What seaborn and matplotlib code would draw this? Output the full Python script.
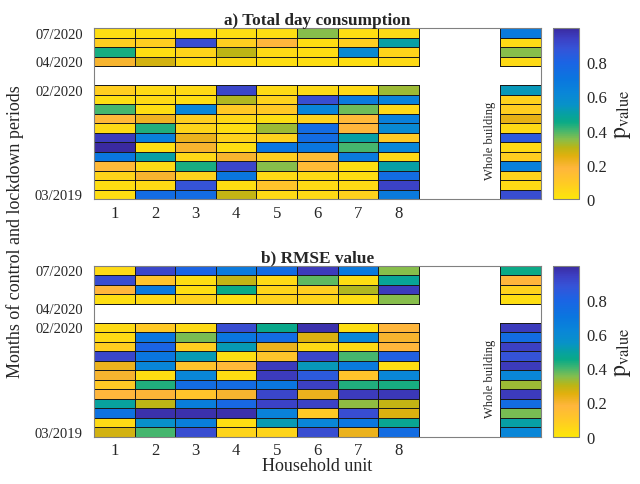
import numpy as np
import pandas as pd
import matplotlib
matplotlib.use("Agg")
import matplotlib.pyplot as plt
import seaborn as sns
from matplotlib.colors import LinearSegmentedColormap

# ---------------- data ----------------
households = ["1", "2", "3", "4", "5", "6", "7", "8"]
whole_label = "Whole building"
lockdown_months = ["07/2020", "06/2020", "05/2020", "04/2020"]
control_months = ["02/2020", "01/2020", "12/2019", "11/2019", "10/2019", "09/2019",
                  "08/2019", "07/2019", "06/2019", "05/2019", "04/2019", "03/2019"]
ytick_labels = ["07/2020", "04/2020", "02/2020", "03/2019"]
cbar_ticks = [0, 0.2, 0.4, 0.6, 0.8]
cbar_ticklabels = ["0", "0.2", "0.4", "0.6", "0.8"]

# p-values: columns = households 1..8, then whole building
consumption_lockdown = [
    [0.03, 0.03, 0.03, 0.03, 0.03, 0.35, 0.03, 0.04, 0.68],
    [0.08, 0.08, 0.90, 0.08, 0.18, 0.03, 0.08, 0.50, 0.04],
    [0.44, 0.03, 0.06, 0.30, 0.04, 0.03, 0.60, 0.06, 0.35],
    [0.20, 0.27, 0.04, 0.04, 0.03, 0.03, 0.03, 0.04, 0.04],
]
consumption_control = [
    [0.08, 0.04, 0.04, 0.92, 0.04, 0.04, 0.04, 0.33, 0.53],
    [0.03, 0.04, 0.03, 0.31, 0.07, 0.90, 0.68, 0.64, 0.07],
    [0.40, 0.03, 0.62, 0.10, 0.10, 0.63, 0.37, 0.05, 0.08],
    [0.17, 0.22, 0.08, 0.05, 0.03, 0.07, 0.17, 0.65, 0.24],
    [0.04, 0.43, 0.06, 0.03, 0.33, 0.75, 0.18, 0.60, 0.04],
    [0.95, 0.65, 0.23, 0.07, 0.07, 0.75, 0.50, 0.10, 0.85],
    [1.00, 0.03, 0.20, 0.03, 0.70, 0.70, 0.40, 0.62, 0.04],
    [0.70, 0.50, 0.05, 0.20, 0.08, 0.16, 0.68, 0.05, 0.08],
    [0.17, 0.04, 0.44, 0.92, 0.35, 0.16, 0.03, 0.50, 0.65],
    [0.06, 0.20, 0.07, 0.70, 0.04, 0.04, 0.03, 0.75, 0.07],
    [0.03, 0.04, 0.88, 0.03, 0.12, 0.04, 0.04, 0.93, 0.04],
    [0.03, 0.75, 0.75, 0.29, 0.04, 0.04, 0.07, 0.68, 0.90],
]
rmse_lockdown = [
    [0.04, 0.92, 0.80, 0.68, 0.75, 0.95, 0.68, 0.35, 0.45],
    [0.90, 0.12, 0.03, 0.29, 0.04, 0.38, 0.03, 0.48, 0.18],
    [0.18, 0.68, 0.03, 0.45, 0.06, 0.08, 0.31, 0.95, 0.07],
    [0.03, 0.04, 0.07, 0.03, 0.07, 0.06, 0.03, 0.35, 0.03],
]
rmse_control = [
    [0.04, 0.10, 0.04, 0.90, 0.46, 0.98, 0.03, 0.18, 0.95],
    [0.04, 0.70, 0.36, 0.70, 0.75, 0.26, 0.62, 0.20, 0.75],
    [0.08, 0.80, 0.08, 0.52, 0.23, 0.04, 0.04, 0.18, 0.94],
    [0.92, 0.70, 0.52, 0.03, 0.12, 0.92, 0.40, 0.82, 0.88],
    [0.23, 0.62, 0.12, 0.17, 0.95, 0.53, 0.68, 0.03, 0.95],
    [0.20, 0.03, 0.62, 0.03, 0.95, 0.85, 0.12, 0.62, 0.62],
    [0.10, 0.43, 0.75, 0.76, 0.70, 0.94, 0.43, 0.44, 0.33],
    [0.18, 0.19, 0.12, 0.20, 0.92, 0.23, 0.95, 0.96, 0.95],
    [0.49, 0.30, 0.66, 0.78, 0.93, 0.93, 0.34, 0.29, 0.75],
    [0.72, 0.98, 0.98, 0.98, 0.64, 0.10, 0.90, 0.26, 0.36],
    [0.04, 0.56, 0.66, 0.03, 0.52, 0.62, 0.70, 0.47, 0.50],
    [0.27, 0.40, 0.90, 0.06, 0.06, 0.90, 0.23, 0.75, 0.62],
]

# reversed parula-like colormap (0 = yellow, 1 = dark indigo)
cmap_stops = [0.00, 0.10, 0.18, 0.25, 0.30, 0.35, 0.40, 0.45, 0.50,
              0.55, 0.62, 0.70, 0.80, 0.88, 0.94, 1.00]
cmap_colors = ["#FDE60A", "#FFC826", "#FFB63C", "#E2B00E", "#BBB515", "#86BE4C",
               "#45B66E", "#0AAA86", "#07A0A4", "#0892C8", "#0986D8", "#0A76DF",
               "#1B64E4", "#3554D8", "#3C40C4", "#3A2AA0"]
cmap = LinearSegmentedColormap.from_list("parula_r", list(zip(cmap_stops, cmap_colors)))

# ---------------- style ----------------
sns.set_style("white")
plt.rcParams["font.family"] = ["Liberation Serif", "DejaVu Serif"]
plt.rcParams["mathtext.fontset"] = "stix"


def build_grid(lock, ctrl):
    lock = np.asarray(lock, float)
    ctrl = np.asarray(ctrl, float)
    nh = len(households)
    n_cols = nh + 3  # two blank columns, then whole building
    n_rows = len(lock) + 2 + len(ctrl)
    grid = np.full((n_rows, n_cols), np.nan)
    grid[:len(lock), :nh] = lock[:, :nh]
    grid[:len(lock), -1] = lock[:, nh]
    grid[len(lock) + 2:, :nh] = ctrl[:, :nh]
    grid[len(lock) + 2:, -1] = ctrl[:, nh]
    rows = lockdown_months + ["", " "] + control_months
    cols = households + ["gap1", "gap2", whole_label]
    return pd.DataFrame(grid, index=rows, columns=cols)


W, H = 640, 485
fig = plt.figure(figsize=(W / 100, H / 100), dpi=100)

panels = [
    ("a) Total day consumption", consumption_lockdown, consumption_control, 29, [0.5, 3.5, 6.5, 17.5]),
    ("b) RMSE value", rmse_lockdown, rmse_control, 266.7, [0.5, 4.5, 6.5, 17.5]),
]
ax_left, ax_right = 94, 540.7
panel_h = 171

for title, lock, ctrl, top_px, ytick_pos in panels:
    ax = fig.add_axes([ax_left / W, 1 - (top_px + panel_h) / H, (ax_right - ax_left) / W, panel_h / H])
    cax = fig.add_axes([553 / W, 1 - (top_px + panel_h) / H, 26 / W, panel_h / H])
    df = build_grid(lock, ctrl)
    sns.heatmap(df, ax=ax, cmap=cmap, vmin=0, vmax=1, linewidths=0.6, linecolor="black",
                cbar_ax=cax, xticklabels=False, yticklabels=False)
    # no cell borders on the empty (NaN) cells
    mesh = ax.collections[0]
    empty = np.isnan(df.values).ravel()
    edge = np.zeros((empty.size, 4))
    edge[~empty] = (0.1, 0.1, 0.1, 1.0)
    mesh.set_edgecolor(edge)

    ax.set_xticks([i + 0.5 for i in range(len(households))])
    ax.set_xticklabels(households, fontsize=12)
    ax.set_yticks(ytick_pos)
    ax.set_yticklabels(ytick_labels, fontsize=10.5, rotation=0)
    ax.tick_params(axis="x", length=0, pad=4)
    ax.tick_params(axis="y", length=0, pad=8)
    ax.set_xlabel("")
    ax.set_ylabel("")
    for s in ax.spines.values():
        s.set_visible(True)
        s.set_color("#808080")
        s.set_linewidth(0.8)
    ax.set_title(title, fontsize=12.4, fontweight="bold", pad=3)
    ax.text(9.75, 11.8, whole_label, rotation=90, ha="center", va="center", fontsize=9)

    cb = mesh.colorbar
    cb.set_ticks(cbar_ticks)
    cb.set_ticklabels(cbar_ticklabels)
    cb.outline.set_visible(True)
    cb.outline.set_linewidth(0.8)
    cb.outline.set_edgecolor("#808080")
    cb.ax.tick_params(direction="in", length=3, width=0.6, color="#555555", labelsize=12, pad=5)
    cb.set_label(r"$\mathrm{p}_{\mathrm{value}}$", fontsize=17, labelpad=4)

fig.text(0.023, 1 - 232 / H, "Months of control and lockdown periods", rotation=90,
         ha="center", va="center", fontsize=13)
fig.text(317 / W, 1 - 467 / H, "Household unit", ha="center", va="center", fontsize=13)

fig.savefig("out.png", dpi=100)
